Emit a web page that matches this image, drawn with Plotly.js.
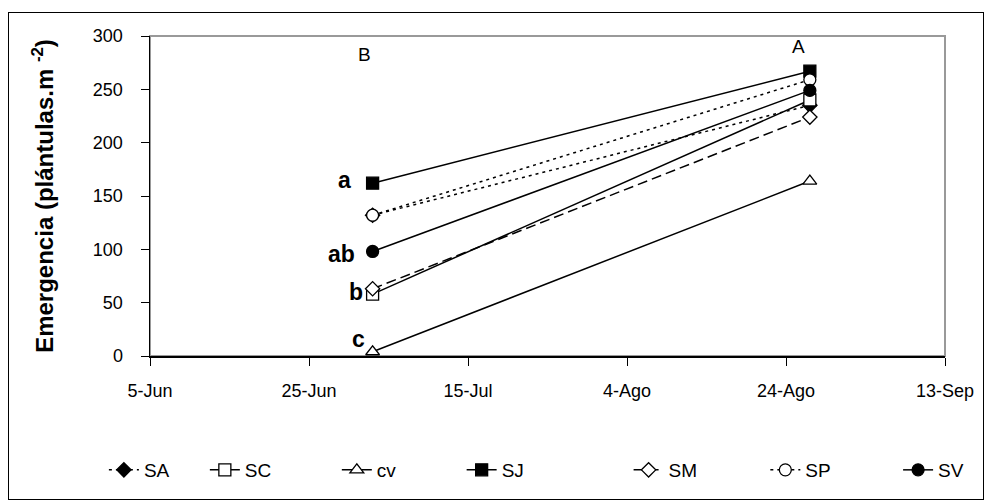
<!DOCTYPE html>
<html>
<head>
<meta charset="utf-8">
<script src="https://cdn.plot.ly/plotly-3.0.1.min.js"></script>
<style>
  body { margin: 0; background: #fff; }
  #chart { width: 984px; height: 500px; position: absolute; left: 0; top: 0; }
  #frame { position: absolute; left: 8px; top: 12px; width: 976px; height: 488px;
           border: 1px solid #000; pointer-events: none; box-sizing: border-box; }
</style>
</head>
<body>
<div id="chart"></div>
<div id="frame"></div>
<script>
// Sampling dates
const dates = ['2007-07-03', '2007-08-27'];

// Series values (plántulas.m-2)
const SA = [132, 235];
const SC = [58, 240];
const cv = [4, 164];
const SJ = [162, 267];
const SM = [63, 224];
const SP = [132, 259];
const SV = [98, 249];

// Axis ticks
const tickDates = ['2007-06-05', '2007-06-25', '2007-07-15', '2007-08-04', '2007-08-24', '2007-09-13'];
const tickLabels = ['5-Jun', '25-Jun', '15-Jul', '4-Ago', '24-Ago', '13-Sep'];

// Significance letters (first date) and date letters
const letters = ['a', 'ab', 'b', 'c'];
const letterY = [165, 96, 60, 16];
const letterShift = [-20, -16, -8, -6];
const dateLetters = ['B', 'A'];
const dateLetterY = [283, 290];
const dateLetterShift = [-8, -11];

// legend x positions (paper) for each series
const legendX = [-0.058, 0.069, 0.235, 0.392, 0.602, 0.774, 0.941];

const FONT = 'Liberation Sans, Arial, sans-serif';

function tr(name, y, dash, symbol, filled, leg) {
  return {
    type: 'scatter', mode: 'lines+markers', name: name, legend: leg,
    x: dates, y: y,
    line: { color: '#000', width: 1.5, dash: dash },
    marker: { symbol: symbol, size: symbol === 'diamond' ? 11 : 12,
              color: filled ? '#000' : '#fff',
              line: { color: '#000', width: 1.3 } }
  };
}

const data = [
  tr('SA', SA, '3px,4px', 'diamond', true, 'legend'),
  tr('SC', SC, 'solid', 'square', false, 'legend2'),
  tr('cv', cv, 'solid', 'triangle-up', false, 'legend3'),
  tr('SJ', SJ, 'solid', 'square', true, 'legend4'),
  tr('SM', SM, '10px,5px', 'diamond', false, 'legend5'),
  tr('SP', SP, '3px,4px', 'circle', false, 'legend6'),
  tr('SV', SV, 'solid', 'circle', true, 'legend7')
];

const annotations = [];
letters.forEach((t, i) => annotations.push({
  x: dates[0], y: letterY[i], xref: 'x', yref: 'y', text: t, showarrow: false,
  xanchor: 'right', yanchor: 'middle', xshift: letterShift[i],
  font: { family: FONT, size: 23, color: '#000', weight: 'bold' }
}));
dateLetters.forEach((t, i) => annotations.push({
  x: dates[i], y: dateLetterY[i], xref: 'x', yref: 'y', text: t, showarrow: false,
  xanchor: 'center', yanchor: 'middle', xshift: dateLetterShift[i],
  font: { family: FONT, size: 19, color: '#000' }
}));

function legendObj(x) {
  return { orientation: 'h', x: x, y: -0.352, xanchor: 'left', yanchor: 'middle',
           font: { family: FONT, size: 19, color: '#000' }, bgcolor: 'rgba(0,0,0,0)' };
}

const layout = {
  width: 984, height: 500,
  margin: { l: 150, r: 39, t: 36, b: 143 },
  paper_bgcolor: 'rgba(0,0,0,0)', plot_bgcolor: '#fff',
  font: { family: FONT, size: 18, color: '#000' },
  showlegend: true,
  legend: legendObj(legendX[0]),
  legend2: legendObj(legendX[1]),
  legend3: legendObj(legendX[2]),
  legend4: legendObj(legendX[3]),
  legend5: legendObj(legendX[4]),
  legend6: legendObj(legendX[5]),
  legend7: legendObj(legendX[6]),
  xaxis: {
    type: 'date', range: ['2007-06-05', '2007-09-13'],
    tickmode: 'array', tickvals: tickDates, ticktext: tickLabels,
    showgrid: false, zeroline: false,
    showline: true, linecolor: '#000', linewidth: 1.5,
    ticks: 'outside', ticklen: 8, tickcolor: '#000', tickwidth: 1,
    ticklabelstandoff: 10,
    tickfont: { family: FONT, size: 18, color: '#000' }
  },
  yaxis: {
    range: [0, 300], tickvals: [0, 50, 100, 150, 200, 250, 300],
    showgrid: false, zeroline: false,
    showline: true, linecolor: '#000', linewidth: 1.5,
    ticks: 'outside', ticklen: 8, tickcolor: '#000', tickwidth: 1,
    ticklabelstandoff: 14,
    tickfont: { family: FONT, size: 18, color: '#000' },
    title: { text: 'Emergencia (plántulas.m <sup>-2</sup>)', standoff: 32,
             font: { family: FONT, size: 24, color: '#000', weight: 'bold' } }
  },
  shapes: [{
    type: 'rect', xref: 'paper', yref: 'paper', x0: 0, x1: 1, y0: 0, y1: 1,
    line: { color: '#999', width: 2 }, layer: 'below'
  }],
  annotations: annotations
};

Plotly.newPlot('chart', data, layout, { displayModeBar: false, staticPlot: true });
</script>
</body>
</html>
